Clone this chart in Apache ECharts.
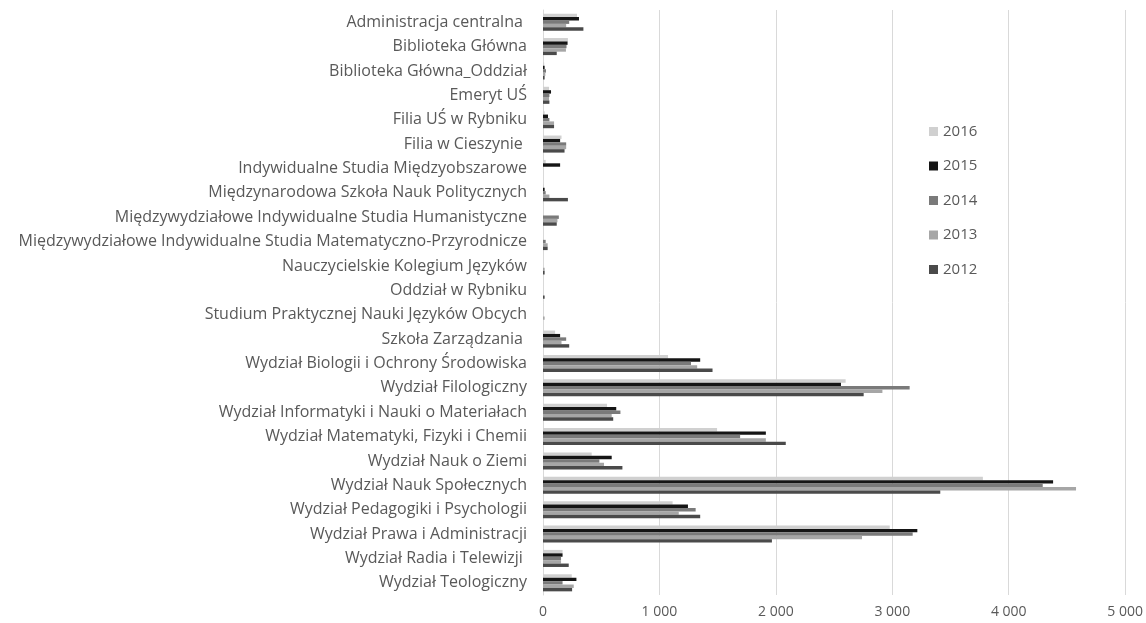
<!DOCTYPE html>
<html><head><meta charset="utf-8">
<script src="https://cdn.jsdelivr.net/npm/echarts@6/dist/echarts.min.js"></script>
<style>html,body{margin:0;padding:0;background:#fff}#c{width:1146px;height:623px}</style>
</head><body><div id="c"></div>
<script>
const categories = ["Administracja centralna ","Biblioteka Główna","Biblioteka Główna_Oddział","Emeryt UŚ","Filia UŚ w Rybniku","Filia w Cieszynie ","Indywidualne Studia Międzyobszarowe","Międzynarodowa Szkoła Nauk Politycznych","Międzywydziałowe Indywidualne Studia Humanistyczne","Międzywydziałowe Indywidualne Studia Matematyczno-Przyrodnicze","Nauczycielskie Kolegium Języków","Oddział w Rybniku","Studium Praktycznej Nauki Języków Obcych","Szkoła Zarządzania ","Wydział Biologii i Ochrony Środowiska","Wydział Filologiczny","Wydział Informatyki i Nauki o Materiałach","Wydział Matematyki, Fizyki i Chemii","Wydział Nauk o Ziemi","Wydział Nauk Społecznych","Wydział Pedagogiki i Psychologii","Wydział Prawa i Administracji","Wydział Radia i Telewizji ","Wydział Teologiczny"];
const v2016 = [292,214,10,52,14,159,23,5,0,0,0,0,0,104,1074,2599,550,1495,418,3778,1113,2978,168,247];
const v2015 = [309,211,14,69,43,147,147,14,0,0,0,0,0,147,1350,2559,629,1914,590,4381,1245,3215,168,287];
const v2014 = [225,202,26,55,55,199,0,23,136,23,0,0,0,199,1271,3149,665,1693,484,4292,1311,3175,155,168];
const v2013 = [199,197,20,52,95,199,0,55,124,40,14,0,14,159,1324,2915,590,1914,524,4578,1166,2740,155,264];
const v2012 = [347,118,14,55,95,185,0,214,118,40,14,14,0,225,1456,2754,603,2085,682,3412,1350,1966,221,250];
const xTicks = [0,1000,2000,3000,4000,5000];
const seriesNames = ["2016","2015","2014","2013","2012"];
const colors = ["#d0d0d0","#151515","#7a7a7a","#a6a6a6","#4a4a4a"];
const seriesData = [v2016,v2015,v2014,v2013,v2012];

const chart = echarts.init(document.getElementById('c'));
const font = "Open Sans";
chart.setOption({
  animation:false,
  color: colors,
  textStyle:{fontFamily:font},
  grid:{left:543,right:19,top:10,bottom:28,containLabel:false},
  legend:{
    orient:'vertical', left:924, top:119, itemGap:19.5, itemWidth:9, itemHeight:9,
    icon:'rect', textStyle:{fontFamily:font,fontSize:15,color:'#595959'},
    data: seriesNames
  },
  xAxis:{
    type:'value', min:xTicks[0], max:xTicks[xTicks.length-1], interval:1000,
    axisLine:{show:false}, axisTick:{show:false},
    splitLine:{lineStyle:{color:'#d9d9d9',width:1}},
    axisLabel:{fontFamily:font,fontSize:14,color:'#595959',margin:10,
      formatter:v=>String(v).replace(/\B(?=(\d{3})+(?!\d))/g,' ')}
  },
  yAxis:{
    type:'category', data:categories, inverse:true,
    axisLine:{show:true,lineStyle:{color:'#d9d9d9'}}, axisTick:{show:false},
    axisLabel:{fontFamily:font,fontSize:16,color:'#595959',margin:16}
  },
  series: seriesNames.map((n,i)=>({
    name:n, type:'bar', data:seriesData[i], barGap:'0%', barCategoryGap:'30%',
    itemStyle:{color:colors[i]}
  }))
});
</script></body></html>
